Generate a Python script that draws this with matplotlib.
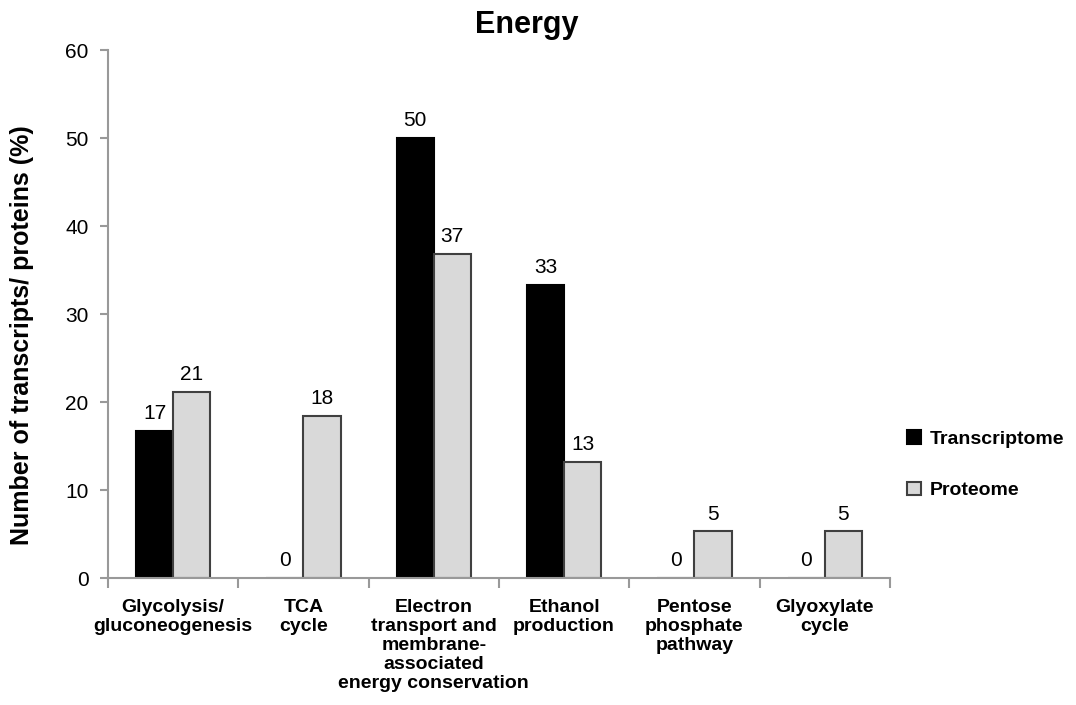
import matplotlib.pyplot as plt
import numpy as np

plt.rcParams['font.family'] = ['Liberation Sans', 'DejaVu Sans']

# Data
categories = ['Glycolysis/\ngluconeogenesis', 'TCA\ncycle',
              'Electron\ntransport and\nmembrane-\nassociated\nenergy conservation',
              'Ethanol\nproduction', 'Pentose\nphosphate\npathway', 'Glyoxylate\ncycle']
transcriptome = [16.7, 0, 50.0, 33.3, 0, 0]
proteome = [21.1, 18.4, 36.8, 13.2, 5.3, 5.3]
transcriptome_labels = ['17', '0', '50', '33', '0', '0']
proteome_labels = ['21', '18', '37', '13', '5', '5']

fig = plt.figure(figsize=(10.76, 7.05), dpi=100)
ax = fig.add_axes([0.1004, 0.180, 0.7266, 0.749])

x = np.arange(len(categories))
w = 0.285
ax.bar(x - w/2, transcriptome, w, color='black', edgecolor='black',
       linewidth=1.5, label='Transcriptome')
ax.bar(x + w/2, proteome, w, color='#d9d9d9', edgecolor='#404040',
       linewidth=1.5, label='Proteome')

for xi, v, s in zip(x - w/2, transcriptome, transcriptome_labels):
    ax.text(xi, v + 0.9, s, ha='center', va='bottom', fontsize=15)
for xi, v, s in zip(x + w/2, proteome, proteome_labels):
    ax.text(xi, v + 0.9, s, ha='center', va='bottom', fontsize=15)

ax.set_xlim(-0.5, len(categories) - 0.5)
ax.set_ylim(0, 60)
ax.set_yticks(range(0, 61, 10))
ax.tick_params(axis='y', labelsize=15, color='#999999', length=6, width=1.5, pad=8)

# category boundary ticks, labels centered
ax.set_xticks(np.arange(len(categories) + 1) - 0.5)
ax.set_xticklabels([])
ax.set_xticks(x, minor=True)
ax.set_xticklabels(categories, minor=True, fontsize=14, fontweight='bold', va='top',
                   linespacing=1.15)
ax.tick_params(axis='x', which='minor', length=0, pad=15)
ax.tick_params(axis='x', which='major', color='#999999', length=7, width=1.5)

for side in ['top', 'right']:
    ax.spines[side].set_visible(False)
for side in ['left', 'bottom']:
    ax.spines[side].set_color('#999999')
    ax.spines[side].set_linewidth(1.5)

ax.set_ylabel('Number of transcripts/ proteins (%)', fontsize=18, fontweight='bold')
ax.yaxis.set_label_coords(-0.095, 0.46)
ax.set_title('Energy', fontsize=22, fontweight='bold', pad=12, x=0.535)

ax.legend(loc='center left', bbox_to_anchor=(1.0, 0.215), frameon=False,
          handlelength=0.7, handleheight=0.7, labelspacing=1.75,
          handletextpad=0.45, prop={'size': 14, 'weight': 'bold'})

fig.savefig('out.png', dpi=100)
